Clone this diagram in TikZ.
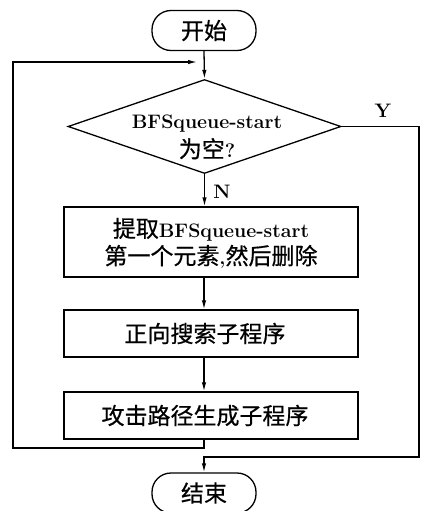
\documentclass[tikz,border=0pt]{standalone}
\usepackage{fontspec}
\newfontfamily\cjk[FakeBold=0.6]{Noto Sans CJK SC}
\usetikzlibrary{shapes.geometric,arrows.meta}
\newcommand{\cjs}{\cjk\mdseries\fontsize{23}{28}\selectfont}
\newcommand{\lts}{\normalfont\bfseries\fontsize{19.5}{24}\selectfont}
\begin{document}
\begin{tikzpicture}[x=1pt,y=-1pt,
  line width=1.3pt,
  arr/.style={-{Latex[length=9pt,width=4.5pt]}},
  term/.style={draw,rounded corners=19pt,minimum width=104pt,minimum height=40pt,inner sep=0pt},
  proc/.style={draw,minimum width=294pt,inner sep=0pt},
  dec/.style={draw,diamond,minimum width=273pt,minimum height=94pt,inner sep=0pt},
  cj/.style={font=\cjs},
  txt/.style={inner sep=0pt,align=center},
  lbl/.style={font=\lts,inner sep=0pt}]
\useasboundingbox (0,0) rectangle (428,511);
\node[term,cj] (start) at (204,30.5) {开始};
\node[dec] (cond) at (204.5,126.5) {};
\node[txt] (condt) at (207,137) {{\lts BFSqueue-start}\\[5pt]{\cjs 为空}{\lts ?}};
\node[proc,minimum height=70pt] (b1) at (211,242) {};
\node[txt] (b1t) at (211,243) {{\cjs 提取}{\lts BFSqueue-start}\\[3pt]{\cjs 第一个元素}{\lts ,}{\cjs 然后删除}};
\node[proc,minimum height=47pt] (b2) at (211,333.5) {};
\node[txt,cj] (b2t) at (205,333.5) {正向搜索子程序};
\node[proc,minimum height=47pt] (b3) at (211,415.5) {};
\node[txt,cj] (b3t) at (205,415.5) {攻击路径生成子程序};
\node[term,cj] (end) at (204,493) {结束};
\coordinate (j1) at (204,62);
\coordinate (j1a) at (197,62);
\coordinate (l1) at (204,448);
\coordinate (l2) at (13,62);
\coordinate (r1) at (419,126.5);
\coordinate (r2) at (204,457);
\draw[arr] (start.south) -- (cond.north);
\draw[arr] (b3.south -| j1) -- (l1) -| (l2) -- (j1a);
\draw[arr] (cond.south) -- (cond.south |- b1.north);
\draw[arr] (b1.south -| j1) -- (b2.north -| j1);
\draw[arr] (b2.south -| j1) -- (b3.north -| j1);
\draw[arr] (cond.east) -- (r1) |- (r2) -- (end.north);
\node[lbl] (ylab) at (383,111) {Y};
\node[lbl] (nlab) at (222,192) {N};
\end{tikzpicture}
\end{document}
